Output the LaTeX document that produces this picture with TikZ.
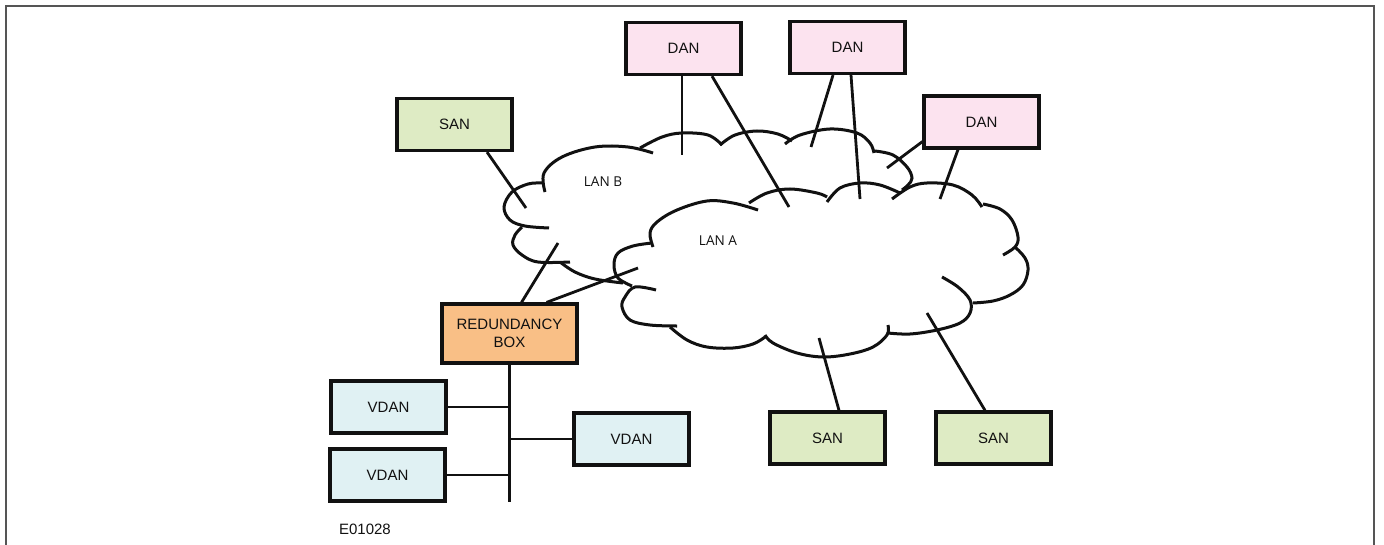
\documentclass[tikz,border=0pt]{standalone}
\usepackage{fontspec}
\setmainfont{Liberation Sans}
\newfontfamily\lanfont{Open Sans}
\usetikzlibrary{calc}
\definecolor{ink}{HTML}{111111}
\definecolor{frame}{HTML}{555555}
\definecolor{lgreen}{HTML}{DEEBC4}
\definecolor{lpink}{HTML}{FCE3EF}
\definecolor{lorange}{HTML}{F9BF86}
\definecolor{lcyan}{HTML}{E0F1F3}
\tikzset{
  every picture/.style={line width=1.4pt,font=\fontsize{7.5}{9}\selectfont},
  bx/.style={draw=ink,line width=1.6pt,minimum width=57.5pt,minimum height=26pt,inner sep=1pt,align=center,text=ink},
  san/.style={bx,fill=lgreen},
  dan/.style={bx,fill=lpink},
  vdan/.style={bx,fill=lcyan},
  rbox/.style={bx,fill=lorange,minimum width=67.5pt,minimum height=29.5pt},
  wire/.style={draw=ink,line width=1.4pt},
  lobe/.style={draw=ink,line width=1.5pt,smooth,tension=0.6},
  lan/.style={font=\lanfont\fontsize{6.8}{8}\selectfont,text=ink},
}

\begin{document}
\begin{tikzpicture}[x=0.5pt,y=-0.5pt]
  \useasboundingbox (0,0) rectangle (1384,545);
  \draw[frame,line width=1pt] (6,545) -- (6,6) -- (1374,6) -- (1374,545);

  \draw[lobe] plot coordinates {(545,192) (544,173) (562,157) (595,147) (628,147) (653,153)};
  \draw[lobe] plot coordinates {(640,148) (662,137) (682,133) (708,135) (722,145)};
  \draw[lobe] plot coordinates {(720,145) (735,135) (757,131) (778,134) (792,141)};
  \draw[lobe] plot coordinates {(785,144) (800,135) (830,129) (857,133) (870,143) (874,153)};
  \draw[lobe] plot coordinates {(875,151) (893,155) (907,167) (912,178) (908,185) (902,190)};
  \draw[lobe] plot coordinates {(542,183) (528,184) (512,192) (504,207) (510,220) (525,226) (549,228)};
  \draw[lobe] plot coordinates {(522,227) (515,235) (513,245) (522,255) (538,262) (570,262)};
  \draw[lobe] plot coordinates {(560,262) (575,272) (595,279) (623,283)};

  \draw[lobe] plot coordinates {(653,247) (650,233) (657,222) (677,210) (707,201) (733,203) (758,210)};
  \draw[lobe] plot coordinates {(749,203) (767,193) (790,189) (817,193) (827,197)};
  \draw[lobe] plot coordinates {(827,202) (840,188) (860,183) (880,185) (900,193)};
  \draw[lobe] plot coordinates {(892,199) (910,187) (927,183) (953,185) (972,195) (982,207)};
  \draw[lobe] plot coordinates {(983,204) (1000,209) (1012,220) (1018,237) (1015,247) (1003,255)};
  \draw[lobe] plot coordinates {(1015,247) (1025,258) (1028,270) (1023,285) (1010,295) (993,301) (973,303)};
  \draw[lobe] plot coordinates {(942,277) (958,287) (970,300) (970,313) (960,323) (937,330) (910,334) (888,333)};
  \draw[lobe] plot coordinates {(888,325) (887,335) (873,347) (850,354) (823,357) (797,353) (773,343) (765,335)};
  \draw[lobe] plot coordinates {(765,337) (753,344) (733,348) (707,347) (687,340) (670,327)};
  \draw[lobe] plot coordinates {(677,326) (650,325) (630,320) (622,307) (625,297) (635,287) (656,290)};
  \draw[lobe] plot coordinates {(632,286) (618,278) (614,265) (618,253) (633,246) (652,243)};

  \node[lan] (lanB) at (603,182) {LAN B};
  \node[lan] (lanA) at (718,241) {LAN A};

  \node[san] (san1) at (454.5,124.5) {SAN};
  \node[dan] (dan1) at (683.5,48.5) {DAN};
  \node[dan] (dan2) at (847.5,47.5) {DAN};
  \node[dan] (dan3) at (981.5,122) {DAN};
  \node[rbox] (rb) at (509.5,333.5) {REDUNDANCY\\BOX};
  \node[vdan] (vdan1) at (388.5,407) {VDAN};
  \node[vdan] (vdan2) at (387.5,475) {VDAN};
  \node[vdan] (vdan3) at (631.5,439) {VDAN};
  \node[san] (san2) at (827.5,438) {SAN};
  \node[san] (san3) at (993.5,438) {SAN};
  \node[anchor=west,text=ink] (code) at (331,529) {E01028};

  \coordinate (inB1) at (526,208);
  \coordinate (inB2) at (558,243);
  \coordinate (inB3) at (682,155);
  \coordinate (inB4) at (811,147);
  \coordinate (inB5) at (887,168);
  \coordinate (inA1) at (638,268);
  \coordinate (inA2) at (789,207);
  \coordinate (inA3) at (860,199);
  \coordinate (inA4) at (940,199);
  \coordinate (inA5) at (819,338);
  \coordinate (inA6) at (927,313);
  \coordinate (busend) at (510,502);

  \draw[wire] ($(san1.south)+(32.5,0)$) -- (inB1);
  \draw[wire] ($(rb.north)+(12,0)$) -- (inB2);
  \draw[wire] ($(rb.north)+(37,0)$) -- (inA1);
  \draw[wire] ($(dan1.south)+(-1.5,0)$) -- (inB3);
  \draw[wire] ($(dan1.south)+(28.5,0)$) -- (inA2);
  \draw[wire] ($(dan2.south)+(-14.5,0)$) -- (inB4);
  \draw[wire] ($(dan2.south)+(3.5,0)$) -- (inA3);
  \draw[wire] ($(dan3.south west)+(0,-8)$) -- (inB5);
  \draw[wire] ($(dan3.south)+(-23.5,0)$) -- (inA4);
  \draw[wire] ($(san2.north)+(11.5,0)$) -- (inA5);
  \draw[wire] ($(san3.north)+(-8.5,0)$) -- (inA6);

  \draw[wire] (rb.south) -- (rb.south |- busend);
  \foreach \v in {vdan1,vdan2,vdan3} \draw[wire] (\v) -- (\v -| rb.south);
\end{tikzpicture}
\end{document}
